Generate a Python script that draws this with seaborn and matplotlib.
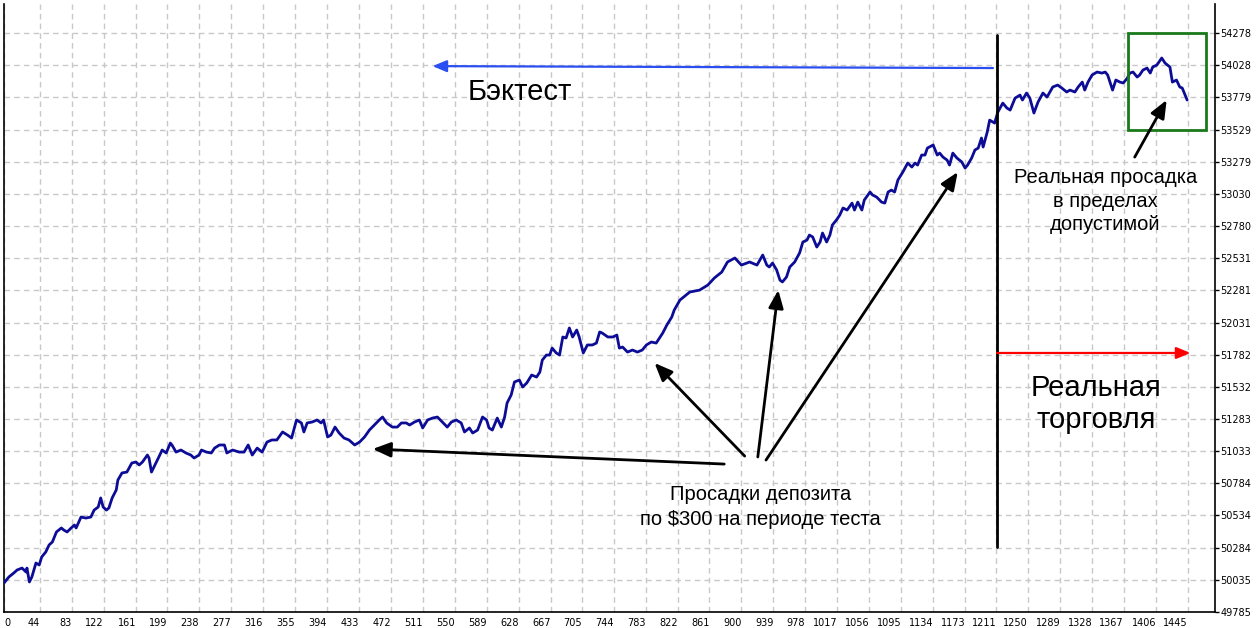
import matplotlib
matplotlib.use("Agg")
import matplotlib.pyplot as plt
import seaborn as sns
import pandas as pd
from matplotlib.patches import Rectangle

# ---- data (bar index / balance) ----
bars = [
    0, 6, 12, 16, 22, 27, 28, 31, 34, 39, 43, 46, 51, 55, 59, 64, 70, 73, 77, 82,
    86, 88, 94, 100, 106, 110, 115, 118, 121, 125, 128, 132, 137, 139, 144, 150, 156, 161, 165, 169,
    175, 177, 180, 183, 189, 193, 198, 203, 205, 210, 216, 222, 228, 232, 238, 241, 247, 253, 257, 263,
    269, 272, 279, 287, 293, 298, 303, 309,
    315, 321, 327, 333, 340, 346, 351, 357, 363, 366, 370, 376, 382, 387, 390, 395, 399, 404, 409, 415,
    421, 428, 434, 440, 446, 452, 458, 462, 467, 474, 480, 485, 491, 495, 501, 507, 511, 517, 523, 529,
    535, 541, 546, 552, 558, 562, 568, 572, 578, 584, 589, 592,
    596, 602, 607, 611, 614, 619, 623, 629, 633, 638, 644, 650, 654, 657, 662, 666, 669, 674, 678, 682,
    686, 690, 694, 699, 702, 707, 712, 718, 723, 727, 730, 737, 743, 748, 751, 755, 761, 767, 773, 779,
    784, 790, 796, 800, 804, 809, 815, 818, 825,
    837, 849, 859, 867, 876, 883, 892, 900, 910, 919, 926, 931,
    934, 938, 943, 947, 950, 955, 959, 965, 971, 975, 980, 983, 987, 992, 996, 999, 1004, 1008, 1011, 1016,
    1020, 1024, 1029, 1035, 1038, 1042, 1047, 1050, 1057, 1060, 1065, 1071, 1075, 1079, 1083, 1087, 1091, 1097, 1103, 1108,
    1112, 1115, 1120, 1124, 1127, 1134, 1139, 1142, 1146, 1151, 1154, 1158, 1163, 1169, 1173, 1176, 1181, 1185, 1189, 1193,
    1195, 1200,
    1203, 1209, 1213, 1219, 1224, 1228, 1234, 1240, 1243, 1248, 1252, 1257, 1262, 1268, 1273, 1280, 1286, 1291, 1297, 1301,
    1307, 1311, 1316, 1319, 1323, 1328, 1334, 1340, 1344, 1347, 1353, 1357, 1362, 1366, 1371, 1374, 1378, 1383, 1386, 1390,
    1395, 1399, 1402, 1407, 1413, 1417, 1423, 1426, 1431, 1435, 1438, 1444,
]
balance = [
    50010, 50057, 50088, 50111, 50126, 50095, 50126, 50018, 50057, 50165, 50150, 50212, 50251, 50305, 50328, 50406, 50437, 50421, 50406, 50437,
    50460, 50437, 50522, 50514, 50522, 50576, 50600, 50670, 50600, 50576, 50592, 50670, 50732, 50809, 50864, 50871, 50941, 50949, 50926, 50949,
    51003, 50980, 50871, 50910, 50988, 51042, 51019, 51096, 51081, 51026, 51042, 51019, 51003, 50980, 51003, 51042, 51026, 51019, 51057, 51081,
    51081, 51019, 51042, 51026, 51026, 51081, 51003, 51057,
    51026, 51104, 51120, 51120, 51182, 51158, 51135, 51275, 51252, 51182, 51252, 51259, 51275, 51252, 51275, 51143, 51158, 51220, 51174, 51135,
    51120, 51081, 51104, 51143, 51197, 51236, 51275, 51298, 51252, 51220, 51220, 51252, 51252, 51236, 51259, 51275, 51213, 51275, 51290, 51298,
    51259, 51220, 51259, 51275, 51252, 51182, 51213, 51174, 51197, 51298, 51275, 51213,
    51197, 51290, 51220, 51298, 51407, 51469, 51570, 51585, 51531, 51562, 51624, 51608, 51647, 51740, 51779, 51779, 51833, 51795, 51779, 51919,
    51911, 51989, 51919, 51973, 51919, 51795, 51857, 51857, 51872, 51958, 51950, 51919, 51919, 51934, 51833, 51841, 51802, 51818, 51802, 51818,
    51857, 51880, 51872, 51911, 51950, 52012, 52074, 52128, 52206,
    52268, 52283, 52322, 52377, 52423, 52501, 52532, 52477, 52501, 52477, 52555, 52477,
    52462, 52493, 52439, 52361, 52346, 52384, 52462, 52501, 52571, 52656, 52671, 52710, 52695, 52617, 52656, 52726, 52656, 52710, 52788, 52827,
    52865, 52920, 52904, 52958, 52904, 52966, 52904, 52982, 53044, 53021, 53005, 52966, 52958, 53044, 53059, 53044, 53137, 53199, 53269, 53238,
    53269, 53253, 53331, 53331, 53385, 53409, 53331, 53346, 53315, 53292, 53253, 53346, 53308, 53277, 53230, 53253, 53308, 53370, 53385, 53463,
    53393, 53509,
    53602, 53579, 53665, 53734, 53696, 53680, 53773, 53796, 53758, 53812, 53773, 53657, 53742, 53812, 53781, 53859, 53874, 53851, 53820, 53835,
    53820, 53859, 53897, 53835, 53897, 53952, 53975, 53967, 53975, 53952, 53835, 53913, 53897, 53890, 53928, 53967, 53975, 53936, 53952, 53990,
    54006, 53967, 54014, 54029, 54084, 54045, 54014, 53897, 53913, 53859, 53851, 53758,
]

x_ticks = [0, 44, 83, 122, 161, 199, 238, 277, 316, 355, 394, 433, 472, 511, 550, 589, 628, 667, 705,
           744, 783, 822, 861, 900, 939, 978, 1017, 1056, 1095, 1134, 1173, 1211, 1250, 1289, 1328,
           1367, 1406, 1445]
y_ticks = [49785, 50035, 50284, 50534, 50784, 51033, 51283, 51532, 51782, 52031, 52281, 52531,
           52780, 53030, 53279, 53529, 53779, 54028, 54278]

# annotation anchors (bar, balance)
split_bar = 1212
split_top, split_bottom = 54262, 50289
backtest_arrow = ((1207, 54006), (523, 54021))       # tail, head
real_arrow = ((1212, 51795), (1448, 51795))
drawdown_arrows = [((879, 50933), (450, 51050)),
                   ((904, 50995), (794, 51717)),
                   ((920, 50988), (945, 52283)),
                   ((930, 50964), (1164, 53199))]
real_dd_arrow = ((1380, 53315), (1419, 53758))
box_x0, box_x1 = 1372, 1467
box_y0, box_y1 = 53529, 54278

sns.set_style("white")
plt.rcParams['font.family'] = ['Liberation Sans', 'DejaVu Sans']
plt.rcParams['text.color'] = 'black'
plt.rcParams['xtick.color'] = 'black'
plt.rcParams['ytick.color'] = 'black'
plt.rcParams['xtick.labelcolor'] = 'black'
plt.rcParams['ytick.labelcolor'] = 'black'

W, H = 1260, 628
fig = plt.figure(figsize=(W / 100, H / 100), dpi=100)
ax = fig.add_axes([4 / W, (H - 612) / H, (1215 - 4) / W, (612 - 4) / H])

df = pd.DataFrame({"bar": bars, "balance": balance})
sns.lineplot(data=df, x="bar", y="balance", ax=ax, color="#0c0c96", linewidth=2, zorder=3)

ax.set_xlim(0, 1478)
ax.set_ylim(49785, 54503)
ax.set_xlabel("")
ax.set_ylabel("")

ax.set_xticks(x_ticks)
ax.set_xticklabels([str(v) for v in x_ticks])
ax.yaxis.tick_right()
ax.set_yticks(y_ticks)
ax.set_yticklabels([str(v) for v in y_ticks])
ax.tick_params(axis="both", direction="out", length=3, width=1, color="black",
               labelcolor="black", labelsize=7, pad=1)
for lab in ax.get_xticklabels() + ax.get_yticklabels():
    lab.set_fontfamily("DejaVu Sans")
xl = ax.get_xticklabels()
for i, lab in enumerate(xl):
    lab.set_ha("left" if i == 0 else "right")

ax.grid(True, color="#c8c8c8", linestyle=(0, (4, 3)), linewidth=1)
for side in ("left", "bottom", "right"):
    ax.spines[side].set_visible(True)
    ax.spines[side].set_color("black")
    ax.spines[side].set_linewidth(1.2)
ax.spines["top"].set_visible(False)

# vertical split line
ax.plot([split_bar, split_bar], [split_bottom, split_top], color="black", lw=2, zorder=4)

def arrow(tail, head, color, lw, ms, hl=0.6, hw=0.25):
    ax.annotate("", xy=head, xytext=tail, zorder=5,
                arrowprops=dict(arrowstyle=f"-|>,head_length={hl},head_width={hw}",
                                color=color, lw=lw, mutation_scale=ms,
                                shrinkA=0, shrinkB=0))

arrow(*backtest_arrow, color="#2a4ef0", lw=1.6, ms=14)
arrow(*real_arrow, color="#ff0000", lw=1.6, ms=14)
for t, h in drawdown_arrows:
    arrow(t, h, color="black", lw=2, ms=18)
arrow(*real_dd_arrow, color="black", lw=2, ms=18)

ax.add_patch(Rectangle((box_x0, box_y0), box_x1 - box_x0, box_y1 - box_y0,
                       fill=False, edgecolor="#1a7a1a", lw=2, zorder=4))

ax.text(630, 53820, "Бэктест", fontsize=21, ha="center", va="center", color="black")
ax.text(1333, 51399, "Реальная\nторговля", fontsize=21, ha="center", va="center",
        linespacing=1.2, color="black")
ax.text(1344, 52974, "Реальная просадка\nв пределах\nдопустимой", fontsize=14.5,
        ha="center", va="center", linespacing=1.32, color="black")
ax.text(923, 50600, "Просадки депозита\nпо $300 на периоде теста", fontsize=14.5,
        ha="center", va="center", linespacing=1.35, color="black")

fig.savefig("out.png", dpi=100, facecolor="white")
